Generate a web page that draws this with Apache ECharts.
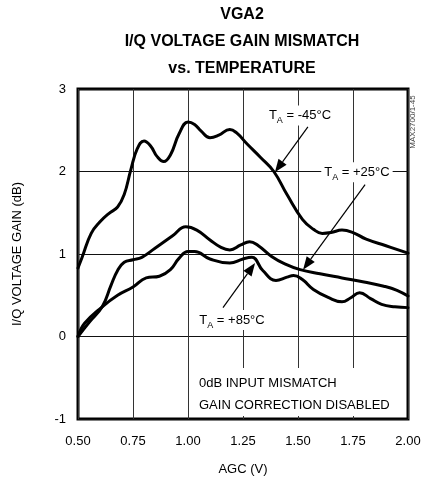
<!DOCTYPE html>
<html>
<head>
<meta charset="utf-8">
<script src="https://cdn.jsdelivr.net/npm/echarts@6/dist/echarts.min.js"></script>
<style>
  html, body { margin: 0; padding: 0; background: #fff; }
  #chart { width: 424px; height: 481px; }
</style>
</head>
<body>
<div id="chart"></div>
<script>
// Axis ticks
const xTicks = [0.5, 0.75, 1.0, 1.25, 1.5, 1.75, 2.0];
const yTicks = [-1, 0, 1, 2, 3];

// TA = -45°C
const agcM45  = [0.50, 0.52, 0.56, 0.60, 0.64, 0.68, 0.71, 0.74, 0.77, 0.80, 0.83, 0.86, 0.89, 0.92, 0.96, 1.00, 1.03, 1.06, 1.10, 1.14, 1.19, 1.22, 1.27, 1.33, 1.39, 1.45, 1.52, 1.57, 1.61, 1.65, 1.70, 1.75, 1.81, 1.90, 2.00];
const gainM45 = [0.83, 0.97, 1.25, 1.39, 1.49, 1.57, 1.72, 2.02, 2.28, 2.37, 2.31, 2.18, 2.12, 2.20, 2.46, 2.60, 2.57, 2.49, 2.41, 2.44, 2.51, 2.47, 2.33, 2.17, 2.00, 1.72, 1.42, 1.30, 1.25, 1.26, 1.29, 1.26, 1.18, 1.10, 1.01];

// TA = +25°C
const agcP25  = [0.50, 0.55, 0.61, 0.65, 0.68, 0.71, 0.75, 0.79, 0.85, 0.93, 0.99, 1.04, 1.10, 1.15, 1.19, 1.24, 1.28, 1.32, 1.38, 1.44, 1.51, 1.60, 1.70, 1.80, 1.89, 1.95, 2.00];
const gainP25 = [0.00, 0.17, 0.36, 0.62, 0.80, 0.90, 0.93, 0.96, 1.07, 1.22, 1.33, 1.29, 1.17, 1.08, 1.05, 1.11, 1.15, 1.10, 0.97, 0.88, 0.81, 0.76, 0.71, 0.66, 0.61, 0.56, 0.49];

// TA = +85°C
const agcP85  = [0.50, 0.53, 0.61, 0.68, 0.75, 0.81, 0.87, 0.92, 0.96, 1.00, 1.03, 1.10, 1.19, 1.25, 1.29, 1.34, 1.40, 1.45, 1.48, 1.52, 1.57, 1.64, 1.70, 1.74, 1.78, 1.83, 1.88, 1.94, 2.00];
const gainP85 = [0.00, 0.16, 0.36, 0.50, 0.60, 0.71, 0.73, 0.81, 0.95, 1.03, 1.03, 0.94, 0.89, 0.94, 0.96, 0.80, 0.68, 0.72, 0.74, 0.69, 0.57, 0.47, 0.42, 0.47, 0.53, 0.46, 0.39, 0.36, 0.35];

// Curve labels: text anchor, arrow start, arrow tip (data units)
const labelNames  = ['-45', '+25', '+85'];
const labelAt     = [[1.509, 2.68], [1.768, 1.99], [1.20, 0.20]];
const arrowFrom   = [[1.545, 2.54], [1.805, 1.84], [1.159, 0.35]];
const arrowTo     = [[1.395, 1.99], [1.523, 0.81], [1.305, 0.89]];

const noteLines = ['0dB INPUT MISMATCH', 'GAIN CORRECTION DISABLED'];

const FONT = '"Liberation Sans", Arial, Helvetica, sans-serif';

const zip = (xs, ys) => xs.map((x, i) => [x, ys[i]]);

const chart = echarts.init(document.getElementById('chart'), null, { renderer: 'canvas' });

const curve = (name, xs, ys) => ({
  name, type: 'line', data: zip(xs, ys), showSymbol: false, smooth: 0.45,
  lineStyle: { color: '#000', width: 3, cap: 'round', join: 'round' },
  z: 5, silent: true, animation: false
});

chart.setOption({
  animation: false,
  backgroundColor: '#fff',
  grid: { left: 78, right: 16, top: 89, bottom: 62, show: true, borderColor: '#000', borderWidth: 3, backgroundColor: 'transparent' },
  xAxis: {
    type: 'value', min: xTicks[0], max: xTicks[xTicks.length - 1], interval: 0.25,
    name: 'AGC (V)', nameLocation: 'middle', nameGap: 44,
    nameTextStyle: { fontFamily: FONT, fontSize: 13, color: '#000' },
    axisLine: { show: false }, axisTick: { show: false },
    axisLabel: { fontFamily: FONT, fontSize: 13, color: '#000', margin: 16, formatter: v => v.toFixed(2) },
    splitLine: { show: true, lineStyle: { color: '#333', width: 1 } }
  },
  yAxis: {
    type: 'value', min: yTicks[0], max: yTicks[yTicks.length - 1], interval: 1,
    name: 'I/Q VOLTAGE GAIN (dB)', nameLocation: 'middle', nameGap: 54, nameRotate: 90,
    nameTextStyle: { fontFamily: FONT, fontSize: 13, color: '#000' },
    axisLine: { show: false }, axisTick: { show: false },
    axisLabel: { fontFamily: FONT, fontSize: 13, color: '#000', margin: 12 },
    splitLine: { show: true, lineStyle: { color: '#111', width: 1 } }
  },
  series: [
    curve('TA = -45°C', agcM45, gainM45),
    curve('TA = +25°C', agcP25, gainP25),
    curve('TA = +85°C', agcP85, gainP85)
  ]
});

const px = p => chart.convertToPixel({ gridIndex: 0 }, p);
const graphics = [];

// Title
['VGA2', 'I/Q VOLTAGE GAIN MISMATCH', 'vs. TEMPERATURE'].forEach((t, i) => {
  graphics.push({
    type: 'text', x: 242, y: 15 + i * 27, z: 20,
    style: { text: t, font: 'bold 16px ' + FONT, fill: '#000', align: 'center', verticalAlign: 'middle' }
  });
});

// Curve labels with arrows
labelNames.forEach((n, i) => {
  const a = px(labelAt[i]);
  graphics.push({
    type: 'text', x: a[0], y: a[1], z: 20,
    style: {
      text: '{m|T}{s|A}{m| = ' + n + '°C}',
      align: 'center', verticalAlign: 'middle',
      backgroundColor: '#fff', padding: [0, 3, 0, 3],
      rich: {
        m: { fontFamily: FONT, fontSize: 13, lineHeight: 20, fill: '#000', color: '#000' },
        s: { fontFamily: FONT, fontSize: 9, lineHeight: 10, verticalAlign: 'bottom', fill: '#000', color: '#000' }
      }
    }
  });
  const p0 = px(arrowFrom[i]);
  const p1 = px(arrowTo[i]);
  const dx = p1[0] - p0[0], dy = p1[1] - p0[1];
  const len = Math.hypot(dx, dy);
  const ux = dx / len, uy = dy / len;
  const hl = 13, hw = 5;
  const bx = p1[0] - ux * hl, by = p1[1] - uy * hl;
  graphics.push({
    type: 'line', z: 21,
    shape: { x1: p0[0], y1: p0[1], x2: bx, y2: by },
    style: { stroke: '#000', lineWidth: 1.2 }
  });
  graphics.push({
    type: 'polygon', z: 21,
    shape: { points: [[p1[0], p1[1]], [bx - uy * hw, by + ux * hw], [bx + uy * hw, by - ux * hw]] },
    style: { fill: '#000' }
  });
});

// Test-condition note
graphics.push({
  type: 'rect', z: 18,
  shape: { x: 192, y: 368, width: 212, height: 48 },
  style: { fill: '#fff' }
});
noteLines.forEach((t, i) => {
  graphics.push({
    type: 'text', x: 199, y: 383 + i * 22, z: 20,
    style: { text: t, font: '13px ' + FONT, fill: '#000', align: 'left', verticalAlign: 'middle' }
  });
});

// Figure code
graphics.push({
  type: 'text', x: 413, y: 122, rotation: Math.PI / 2, z: 20,
  style: { text: 'MAX2700/1-45', font: '8px ' + FONT, fill: '#444', align: 'center', verticalAlign: 'middle' }
});

chart.setOption({ graphic: graphics });
</script>
</body>
</html>
